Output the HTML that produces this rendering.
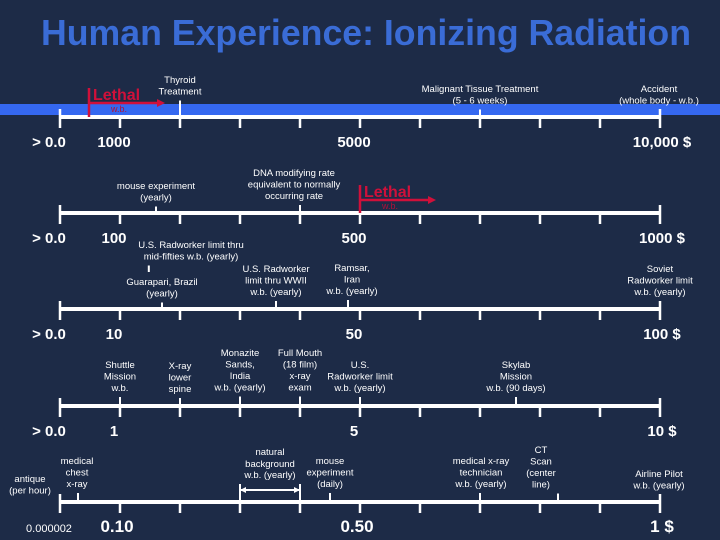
<!DOCTYPE html>
<html><head><meta charset="utf-8">
<style>
html,body{margin:0;padding:0;background:#1d2b47;}
svg{display:block;font-family:"Liberation Sans",sans-serif;}
.a{fill:#fff;font-size:9.5px;text-anchor:middle;}
.t{fill:#fff;font-size:15px;font-weight:bold;text-anchor:middle;}
</style></head>
<body>
<svg id="c" width="720" height="540" viewBox="0 0 720 540">
<rect width="720" height="540" fill="#1d2b47"/>
<rect x="0" y="104" width="720" height="11" fill="#3568f0"/>
<text x="366" y="45" fill="#3a6cd6" font-size="36" font-weight="bold" text-anchor="middle" textLength="650" lengthAdjust="spacingAndGlyphs">Human Experience: Ionizing Radiation</text>
</svg>
<script>
const rowLabels = [
  ["> 0.0","1000","5000","10,000 $"],
  ["> 0.0","100","500","1000 $"],
  ["> 0.0","10","50","100 $"],
  ["> 0.0","1","5","10 $"],
  ["0.000002","0.10","0.50","1 $"]
];
const rowY = [117,213,309,406,502];
const tickCount = 11;
const annotations = [
  [0,2,["Thyroid","Treatment"],180,83],
  [0,7,["Malignant Tissue Treatment","(5 - 6 weeks)"],480,92],
  [0,10,["Accident","(whole body - w.b.)"],659,92],
  [1,1.6,["mouse experiment","(yearly)"],156,189],
  [1,4,["DNA modifying rate","equivalent to normally","occurring rate"],294,176],
  [2,1.48,["U.S. Radworker limit thru","mid-fifties  w.b. (yearly)"],191,248,272],
  [2,1.7,["Guarapari, Brazil","(yearly)"],162,285],
  [2,3.6,["U.S. Radworker","limit thru WWII","w.b. (yearly)"],276,272],
  [2,4.8,["Ramsar,","Iran","w.b. (yearly)"],352,271],
  [2,10,["Soviet","Radworker limit","w.b. (yearly)"],660,272],
  [3,1,["Shuttle","Mission","w.b."],120,368],
  [3,2,["X-ray","lower","spine"],180,369],
  [3,3,["Monazite","Sands,","India","w.b. (yearly)"],240,356],
  [3,4,["Full Mouth","(18 film)","x-ray","exam"],300,356],
  [3,5,["U.S.","Radworker limit","w.b. (yearly)"],360,368],
  [3,7.6,["Skylab","Mission","w.b. (90 days)"],516,368],
  [4,0.3,["medical","chest","x-ray"],77,464],
  [4,0,["antique","(per hour)"],30,482],
  [4,4.5,["mouse","experiment","(daily)"],330,464],
  [4,7,["medical x-ray","technician","w.b. (yearly)"],481,464],
  [4,8.3,["CT","Scan","(center","line)"],541,453],
  [4,10,["Airline Pilot","w.b. (yearly)"],659,477]
];
const svg=document.getElementById('c');
const NS='http://www.w3.org/2000/svg';
const x0=60,x1=660;
function xs(i){return x0+(x1-x0)*i/(tickCount-1);}
function mk(tag,at,parent){const e=document.createElementNS(NS,tag);for(const k in at)e.setAttribute(k,at[k]);(parent||svg).appendChild(e);return e;}
rowY.forEach((y,r)=>{
  const g=mk('g',{});
  
  
  const ax=mk('line',{x1:x0,y1:y,x2:x1,y2:y,stroke:'#fff','stroke-width':4},g);
  
  
  for(let i=0;i<tickCount;i++){
    const top=(i===0||i===tickCount-1)?y-8:y;
    const tk=mk('line',{x1:xs(i),y1:top,x2:xs(i),y2:y+11,stroke:'#fff','stroke-width':2.5},g);
    
    
  }
  const lx=[49,xs(1)-6,xs(5)-6,662];
  rowLabels[r].forEach((t,j)=>{
    const small=(r===4&&j===0);
    const tx=mk('text',{x:lx[j]+(r===4&&j>0?(j===3?0:3):0),y:y+30,class:'t'},g);
    tx.setAttribute('style',small?'font-size:11px;font-weight:normal':(r===4?'font-size:17px':'font-size:15px'));
    tx.textContent=t;
    
    
  });
});
annotations.forEach(a=>{
  const [r,pos,lines,cx,ty,lineEnd]=a;
  const y=rowY[r];const px=xs(pos);
  const g=mk('g',{});
  
  
  lines.forEach((l,k)=>{
    const t=mk('text',{x:cx,y:ty+k*11.5,class:'a'},g);
    t.textContent=l;
  });
  const lastY=ty+(lines.length-1)*11.5+4;
  if(!(r===4&&pos===0)){
    const ln=mk('line',{x1:px,y1:lastY+2,x2:px,y2:lineEnd||y,stroke:'#fff','stroke-width':2},g);
    
    
  }
});
const nb=mk('g',{});


[["natural",455],["background",467],["w.b. (yearly)",478]].forEach(p=>{const t=mk('text',{x:270,y:p[1],class:'a'},nb);t.textContent=p[0];});
mk('line',{x1:xs(3),y1:490,x2:xs(4),y2:490,stroke:'#fff','stroke-width':2},nb);
mk('line',{x1:xs(3),y1:484,x2:xs(3),y2:502,stroke:'#fff','stroke-width':2},nb);
mk('line',{x1:xs(4),y1:484,x2:xs(4),y2:502,stroke:'#fff','stroke-width':2},nb);
mk('path',{d:`M${xs(3)} 490 l6 -3 v6z M${xs(4)} 490 l-6 -3 v6z`,fill:'#fff'},nb);
[[0,89,88,103,165],[1,360,185,200,436]].forEach(L=>{
  const [r,x,top,ay,ax2]=L;const y=rowY[r];
  const g=mk('g',{});
  
  
  mk('line',{x1:x,y1:top,x2:x,y2:y,stroke:'#d0103a','stroke-width':2.5},g);
  mk('line',{x1:x,y1:ay,x2:ax2-6,y2:ay,stroke:'#d0103a','stroke-width':2.5},g);
  mk('path',{d:`M${ax2} ${ay} l-8 -4 v8z`,fill:'#d0103a'},g);
  const t=mk('text',{x:x+4,y:ay-3,fill:'#d0103a','font-size':16,'font-weight':'bold'},g);t.textContent='Lethal';
  const w=mk('text',{x:x+22,y:ay+9,fill:'#b0103a','font-size':9},g);w.textContent='w.b.';
});
</script>
</body></html>
